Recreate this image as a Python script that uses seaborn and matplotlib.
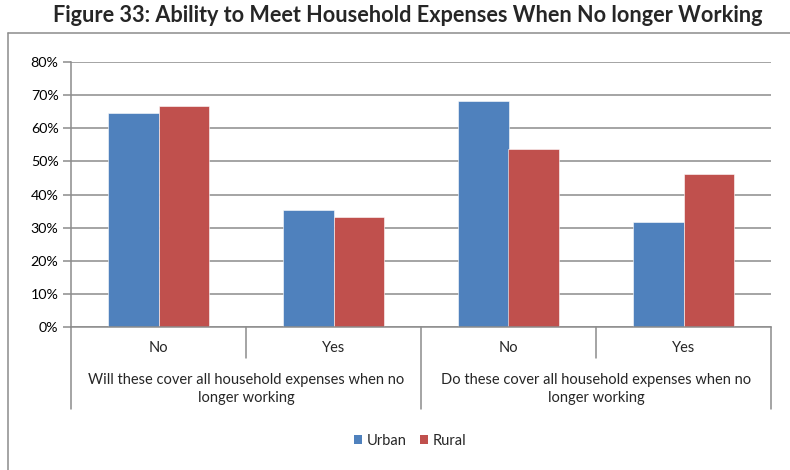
import matplotlib
matplotlib.use("Agg")
import matplotlib.pyplot as plt
import seaborn as sns
import pandas as pd
from matplotlib.lines import Line2D
from matplotlib.patches import Patch
from matplotlib.ticker import MultipleLocator, PercentFormatter

# ---- data ----
title = "Figure 33: Ability to Meet Household Expenses When No longer Working"
answers = ["No", "Yes", "No", "Yes"]
questions = ["Will these cover all household expenses when no\nlonger working",
             "Do these cover all household expenses when no\nlonger working"]
series = ["Urban", "Rural"]
urban = [64.7, 35.3, 68.3, 31.7]
rural = [66.7, 33.3, 53.8, 46.2]
colors = ["#4F81BD", "#C0504D"]

sns.set_theme(style="white")
plt.rcParams["font.family"] = ["Lato", "DejaVu Sans"]

rows = []
for i, a in enumerate(answers):
    rows.append({"pos": i, "series": series[0], "value": urban[i]})
    rows.append({"pos": i, "series": series[1], "value": rural[i]})
df = pd.DataFrame(rows)

fig = plt.figure(figsize=(7.9, 4.7), dpi=100)
W, H = 790, 470
ax = fig.add_axes([71 / W, 1 - 327 / H, 700 / W, 265 / H])

sns.barplot(data=df, x="pos", y="value", hue="series", hue_order=series,
            palette=colors, width=0.572, gap=0, saturation=1, ax=ax,
            legend=False, native_scale=True, errorbar=None)
for p in ax.patches:
    p.set_edgecolor("white")
    p.set_linewidth(0.4)

ax.set_xlim(-0.5, len(answers) - 0.5)
ax.set_ylim(0, 80)
ax.yaxis.set_major_locator(MultipleLocator(10))
ax.yaxis.set_major_formatter(PercentFormatter(decimals=0))
ax.grid(axis="y", color="#8c8c8c", linewidth=1.1)
ax.set_axisbelow(True)
ax.set_xlabel("")
ax.set_ylabel("")
ax.set_xticks([])
for s in ["top", "right"]:
    ax.spines[s].set_visible(False)
ax.spines["left"].set_color("#8c8c8c")
ax.spines["bottom"].set_color("#8c8c8c")
ax.spines["left"].set_linewidth(1.1)
ax.spines["bottom"].set_linewidth(1.1)
ax.tick_params(axis="y", length=6, width=1.1, color="#8c8c8c", labelsize=10.3,
               pad=3, left=True, labelcolor="black")

# multi-level category axis
trans = ax.get_xaxis_transform()
ax_h = 265.0
def ay(py):  # pixel y in figure -> axes fraction
    return (327 - py) / ax_h

for i in range(len(answers) + 1):
    x = i - 0.5
    bottom = 409 if i % 2 == 0 else 358
    ax.add_line(Line2D([x, x], [0, ay(bottom)], transform=trans, color="#8c8c8c",
                       linewidth=1.1, clip_on=False))
for i, a in enumerate(answers):
    ax.text(i, ay(348), a, transform=trans, ha="center", va="center",
            fontsize=10.5, clip_on=False)
for g, q in enumerate(questions):
    ax.text(2 * g + 0.5, ay(389), q, transform=trans, ha="center", va="center",
            fontsize=10.5, linespacing=1.3, clip_on=False)

# outer frame
fig.add_artist(Line2D([8 / W, 8 / W], [0, 1 - 33 / H], transform=fig.transFigure,
                      color="#8c8c8c", linewidth=1.1))
fig.add_artist(Line2D([8 / W, 1], [1 - 33 / H, 1 - 33 / H], transform=fig.transFigure,
                      color="#8c8c8c", linewidth=1.1))

fig.text(408 / W, 1 - 15 / H, title, ha="center", va="center",
         fontsize=15.6, fontweight="bold")

handles = [Patch(facecolor=c, edgecolor="none") for c in colors]
fig.legend(handles, series, loc="center", bbox_to_anchor=(410 / W, 1 - 441 / H),
           ncol=2, frameon=False, fontsize=10.5, handlelength=0.55, handleheight=0.55,
           handletextpad=0.35, columnspacing=0.9)

fig.savefig("out.png", dpi=100)
